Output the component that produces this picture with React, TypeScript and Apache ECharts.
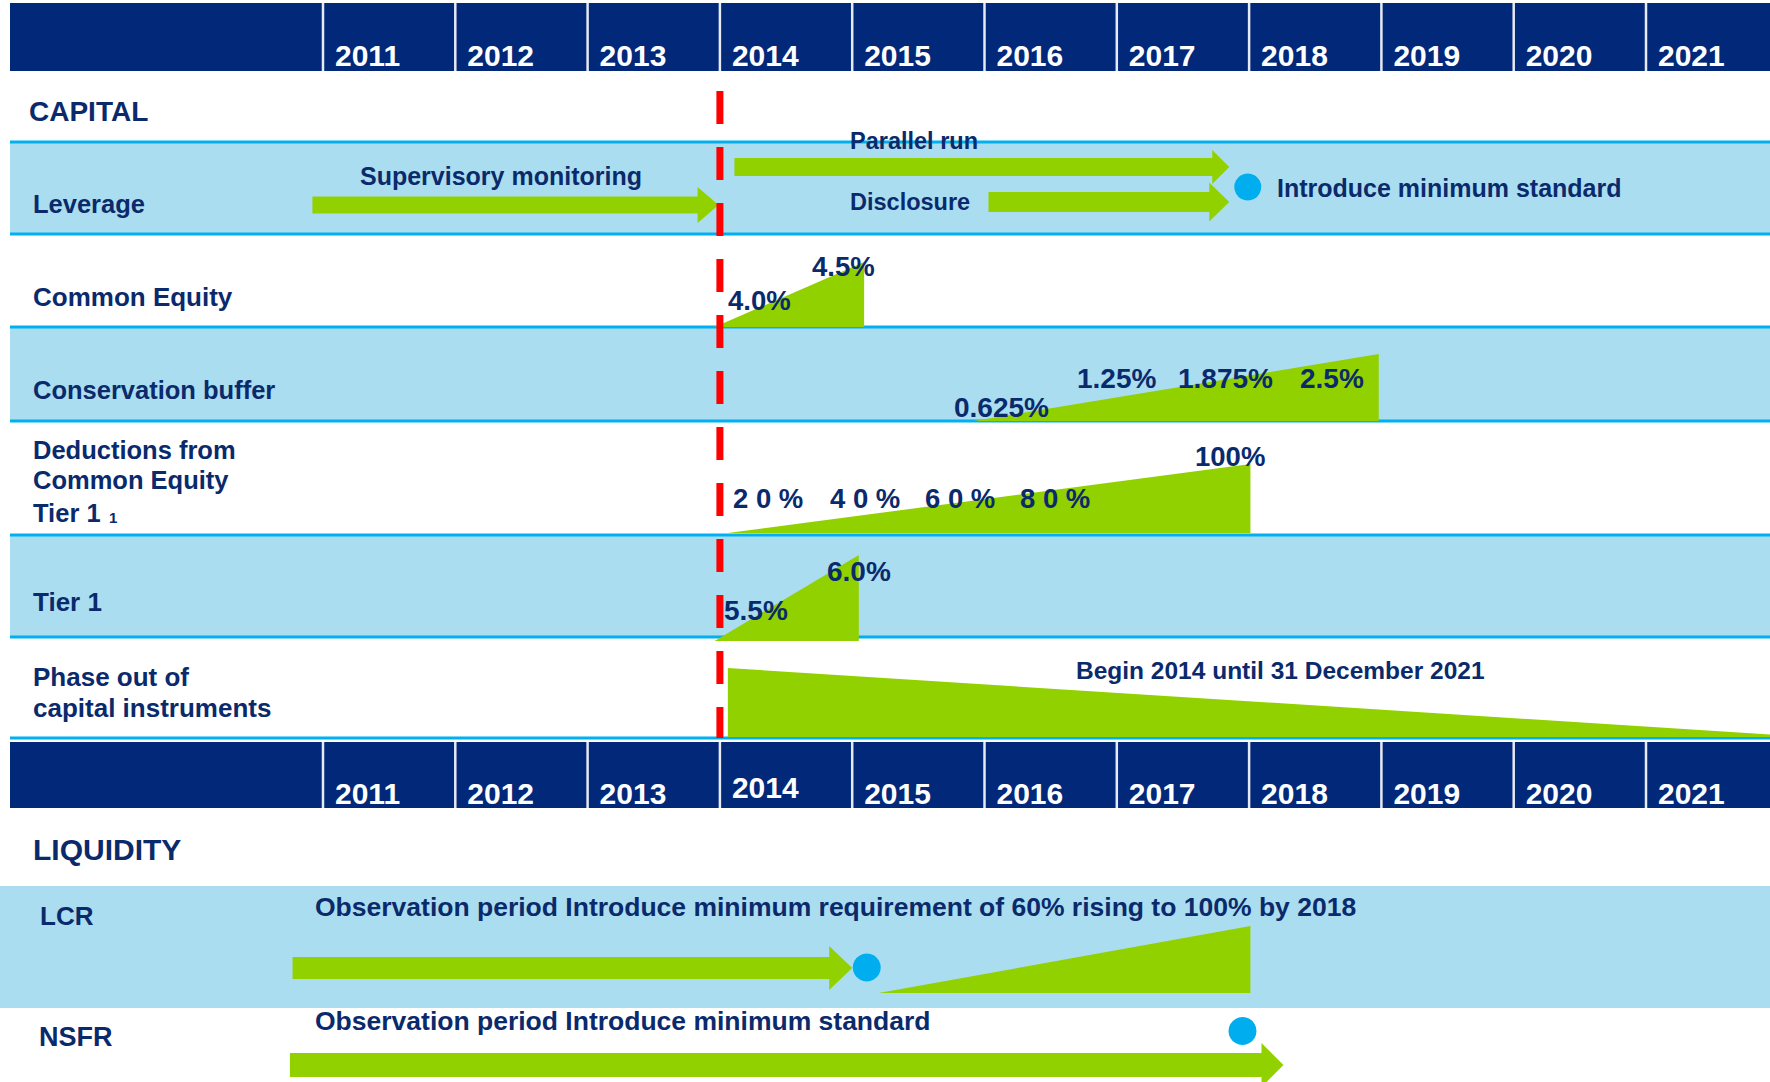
import React, { useEffect, useRef } from 'react';
import * as echarts from 'echarts';

// ---------------- DATA ----------------
const YEARS = [2011, 2012, 2013, 2014, 2015, 2016, 2017, 2018, 2019, 2020, 2021];
const START_MARKER_YEAR = [2014];

// phase-in wedges (years on the time axis)
const RAMP_NAMES = ['Common Equity', 'Conservation buffer', 'Deductions from CET1', 'Tier 1', 'Phase out of capital instruments', 'LCR'];
const RAMP_START = [2013.96, 2015.92, 2014.06, 2013.96, 2014.06, 2015.2];
const RAMP_END = [2015.09, 2018.98, 2018.01, 2015.05, 2022.0, 2018.01];

// arrows (observation / monitoring periods)
const ARROW_NAMES = ['Supervisory monitoring', 'Parallel run', 'Disclosure', 'LCR observation', 'NSFR observation'];
const ARROW_START = [2010.92, 2014.11, 2016.03, 2010.77, 2010.75];
const ARROW_END = [2013.99, 2017.85, 2017.85, 2015.0, 2018.26];

// milestones (introduce minimum standard)
const MILESTONE_NAMES = ['Leverage', 'LCR', 'NSFR'];
const MILESTONE_YEARS = [2017.99, 2015.11, 2017.95];

// labels
const COMMON_EQUITY_LABELS = ['4.0%', '4.5%'];
const CONSERVATION_LABELS = ['0.625%', '1.25%', '1.875%', '2.5%'];
const DEDUCTION_LABELS = ['2 0 %', '4 0 %', '6 0 %', '8 0 %', '100%'];
const TIER1_LABELS = ['5.5%', '6.0%'];

// ---------------- LAYOUT / STYLE ----------------
const W = 1770;
const H = 1082;
const PX_PER_YEAR = 132.3;
const FIRST_COL_X = 323;
const X_MIN = YEARS[0] - FIRST_COL_X / PX_PER_YEAR;
const X_MAX = X_MIN + W / PX_PER_YEAR;

const NAVY = '#02287A';
const TEXT = '#0A2A6C';
const BAND = '#ABDDF0';
const CYAN = '#00B0F0';
const GREEN = '#92D100';
const DOT = '#00AEEF';
const RED = '#FF0000';
const FF = '"Liberation Sans", Arial, Helvetica, sans-serif';
const font = (s: number) => `bold ${s}px ${FF}`;

const HEADERS = [
  { top: 3, bottom: 71, textY: 55.5 },
  { top: 742, bottom: 808, textY: 793 },
];
const HEADER_TEXT_SHIFT: Record<string, number> = { '1-2014': -6 };

const RAMP_GEOM = [
  { bottom: 327, h0: 0, h1: 65 },
  { bottom: 421, h0: 0, h1: 67 },
  { bottom: 533, h0: 0, h1: 69 },
  { bottom: 641, h0: 0, h1: 86 },
  { bottom: 737, h0: 69, h1: 2 },
  { bottom: 993, h0: 0, h1: 67 },
];
const ARROW_GEOM = [
  { y: 205, body: 8.5, head: 18, len: 21 },
  { y: 167, body: 9, head: 17, len: 17 },
  { y: 202, body: 10, head: 19.5, len: 20 },
  { y: 968, body: 11, head: 22, len: 23 },
  { y: 1065, body: 12, head: 22, len: 22 },
];
const MILESTONE_GEOM = [
  { y: 187, r: 13.5 },
  { y: 967.5, r: 14 },
  { y: 1031, r: 14 },
];
const MARKER_GEOM = { top: 91, bottom: 738, width: 7, dash: [33, 23] };

const BANDS = [
  { x: 10, y: 142, h: 92 },
  { x: 10, y: 327, h: 94 },
  { x: 10, y: 535, h: 102 },
  { x: 0, y: 886, h: 122 },
];
const LINES_Y = [142, 234, 327, 421, 535, 637, 738];

const LABEL_POS: Array<[string[], Array<[number, number]>, number]> = [
  [COMMON_EQUITY_LABELS, [[728, 300], [812, 266]], 27.5],
  [CONSERVATION_LABELS, [[954, 407], [1077, 378], [1178, 378], [1300, 378]], 28],
  [DEDUCTION_LABELS, [[733, 498], [830, 498], [925, 498], [1020, 498], [1195, 456]], 27.5],
  [TIER1_LABELS, [[724, 610], [827, 571]], 28],
];

const ROW_TEXTS: Array<[string, number, number, number]> = [
  ['CAPITAL', 29, 111, 28],
  ['Leverage', 33, 204, 25.5],
  ['Common Equity', 33, 297, 26],
  ['Conservation buffer', 33, 390, 25.5],
  ['Deductions from', 33, 450, 25.5],
  ['Common Equity', 33, 480, 25.5],
  ['Tier 1', 33, 513, 25.5],
  ['Tier 1', 33, 602, 26],
  ['Phase out of', 33, 677, 26],
  ['capital instruments', 33, 708, 26],
  ['LIQUIDITY', 33, 849, 30],
  ['LCR', 40, 916, 26],
  ['NSFR', 39, 1037, 27],
];

const NOTE_TEXTS: Array<[string, number, number, number]> = [
  ['Supervisory monitoring', 360, 176, 25],
  ['Parallel run', 850, 141, 23.5],
  ['Disclosure', 850, 201.5, 23.5],
  ['Introduce minimum standard', 1277, 188, 25],
  ['Begin 2014 until 31 December 2021', 1076, 670, 24.5],
  ['Observation period Introduce minimum requirement of 60% rising to 100% by 2018', 315, 906.5, 26.5],
  ['Observation period Introduce minimum standard', 315, 1020.5, 26.5],
];

function txt(text: string, x: number, y: number, size: number, fill = TEXT, z = 20) {
  return {
    type: 'text',
    z,
    style: { text, x, y, fill, font: font(size), textAlign: 'left', textVerticalAlign: 'middle' },
  };
}

function buildOption() {
  const graphics: any[] = [];
  HEADERS.forEach((h) => {
    graphics.push({ type: 'rect', z: 0, shape: { x: 10, y: h.top, width: W - 10, height: h.bottom - h.top }, style: { fill: NAVY } });
  });
  BANDS.forEach((b) => {
    graphics.push({ type: 'rect', z: 0, shape: { x: b.x, y: b.y, width: W - b.x, height: b.h }, style: { fill: BAND } });
  });
  LINES_Y.forEach((y) => {
    graphics.push({ type: 'rect', z: 1, shape: { x: 10, y: y - 1.5, width: W - 10, height: 3 }, style: { fill: CYAN } });
  });
  ROW_TEXTS.forEach(([t, x, y, s]) => graphics.push(txt(t, x, y, s)));
  graphics.push(txt('1', 109, 517, 15));
  NOTE_TEXTS.forEach(([t, x, y, s]) => graphics.push(txt(t, x, y, s)));
  LABEL_POS.forEach(([labels, pos, s]) => {
    labels.forEach((l, i) => graphics.push(txt(l, pos[i][0], pos[i][1], s)));
  });

  const headerSeries = {
    type: 'custom',
    name: 'years',
    z: 3,
    clip: false,
    data: YEARS.map((y) => [y, 0]),
    renderItem: (params: any, api: any) => {
      const yr = api.value(0);
      const children: any[] = [];
      HEADERS.forEach((h, hi) => {
        const a = api.coord([yr, h.top]);
        const b = api.coord([yr, h.bottom]);
        children.push({ type: 'rect', shape: { x: a[0] - 1.25, y: a[1], width: 2.5, height: b[1] - a[1] }, style: { fill: '#E6EAF3' } });
        const shift = HEADER_TEXT_SHIFT[`${hi}-${yr}`] || 0;
        const ty = api.coord([yr, h.textY + shift])[1];
        children.push({
          type: 'text',
          style: { text: String(yr), x: a[0] + 12, y: ty, fill: '#FFFFFF', font: font(30), textAlign: 'left', textVerticalAlign: 'middle' },
        });
      });
      return { type: 'group', children };
    },
  };

  const rampSeries = {
    type: 'custom',
    name: 'phase-in',
    z: 3,
    clip: false,
    data: RAMP_NAMES.map((_, i) => [RAMP_START[i], RAMP_END[i], i]),
    renderItem: (params: any, api: any) => {
      const i = api.value(2);
      const g = RAMP_GEOM[i];
      const x0 = api.value(0);
      const x1 = api.value(1);
      const p1 = api.coord([x0, g.bottom]);
      const p2 = api.coord([x0, g.bottom - g.h0]);
      const p3 = api.coord([x1, g.bottom - g.h1]);
      const p4 = api.coord([x1, g.bottom]);
      return { type: 'polygon', shape: { points: [p1, p2, p3, p4] }, style: { fill: GREEN } };
    },
  };

  const arrowSeries = {
    type: 'custom',
    name: 'periods',
    z: 3,
    clip: false,
    data: ARROW_NAMES.map((_, i) => [ARROW_START[i], ARROW_END[i], i]),
    renderItem: (params: any, api: any) => {
      const i = api.value(2);
      const g = ARROW_GEOM[i];
      const s = api.coord([api.value(0), g.y]);
      const t = api.coord([api.value(1), g.y]);
      const xh = t[0] - g.len;
      const y = s[1];
      const pts = [
        [s[0], y - g.body],
        [xh, y - g.body],
        [xh, y - g.head],
        [t[0], y],
        [xh, y + g.head],
        [xh, y + g.body],
        [s[0], y + g.body],
      ];
      return { type: 'polygon', shape: { points: pts }, style: { fill: GREEN } };
    },
  };

  const dotSeries = {
    type: 'custom',
    name: 'milestones',
    z: 4,
    clip: false,
    data: MILESTONE_NAMES.map((_, i) => [MILESTONE_YEARS[i], i]),
    renderItem: (params: any, api: any) => {
      const i = api.value(1);
      const g = MILESTONE_GEOM[i];
      const c = api.coord([api.value(0), g.y]);
      return { type: 'circle', shape: { cx: c[0], cy: c[1], r: g.r }, style: { fill: DOT } };
    },
  };

  const markerSeries = {
    type: 'custom',
    name: 'start',
    z: 5,
    clip: false,
    data: START_MARKER_YEAR.map((y) => [y, 0]),
    renderItem: (params: any, api: any) => {
      const a = api.coord([api.value(0), MARKER_GEOM.top]);
      const b = api.coord([api.value(0), MARKER_GEOM.bottom]);
      return {
        type: 'line',
        shape: { x1: a[0], y1: a[1], x2: b[0], y2: b[1] },
        style: { stroke: RED, lineWidth: MARKER_GEOM.width, lineDash: MARKER_GEOM.dash, lineCap: 'butt' },
      };
    },
  };

  return {
    animation: false,
    grid: { left: 0, right: 0, top: 0, bottom: 0 },
    xAxis: { type: 'value', min: X_MIN, max: X_MAX, show: false, splitLine: { show: false } },
    yAxis: { type: 'value', min: 0, max: H, inverse: true, show: false, splitLine: { show: false } },
    graphic: { elements: graphics },
    series: [headerSeries, rampSeries, arrowSeries, dotSeries, markerSeries],
  };
}

export default function App() {
  const ref = useRef<HTMLDivElement>(null);
  useEffect(() => {
    document.body.style.margin = '0';
    const chart = echarts.init(ref.current as HTMLDivElement, null, { renderer: 'svg' });
    chart.setOption(buildOption() as any);
    return () => chart.dispose();
  }, []);
  return <div ref={ref} style={{ width: W, height: H, position: 'absolute', left: 0, top: 0, background: '#FFFFFF' }} />;
}
